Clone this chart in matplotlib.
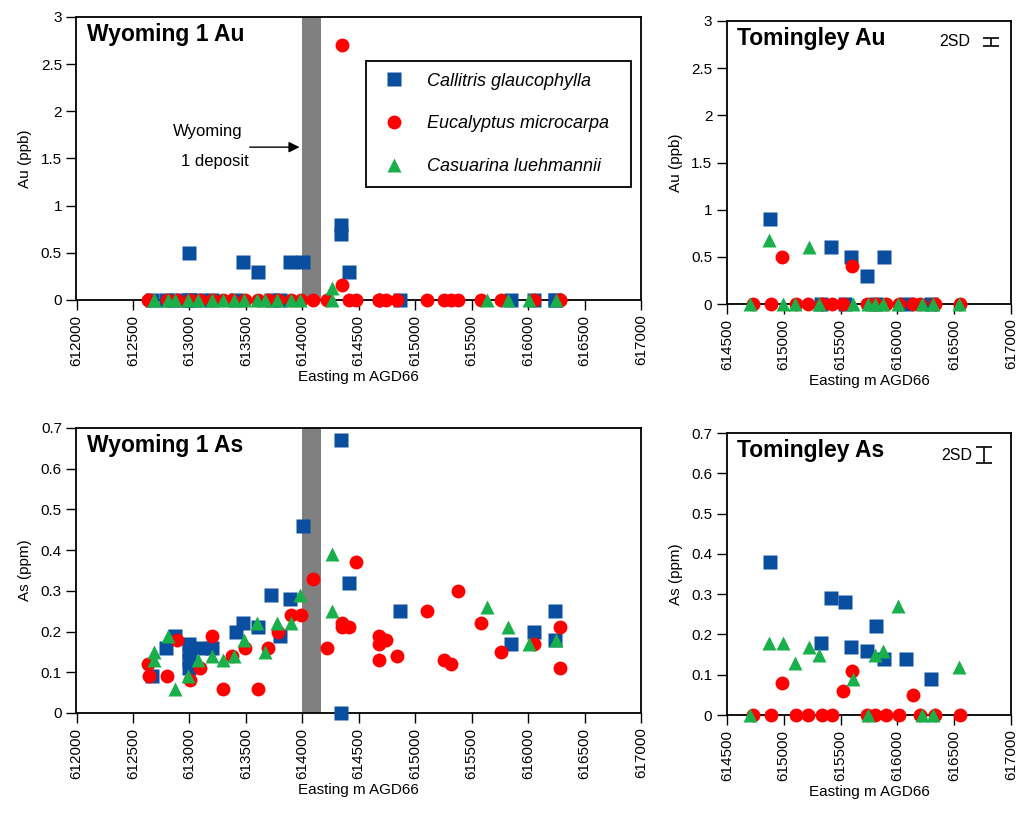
import matplotlib.pyplot as plt

plt.rcParams['font.family'] = ['Liberation Sans', 'DejaVu Sans']

SPECIES = ['Callitris glaucophylla', 'Eucalyptus microcarpa', 'Casuarina luehmannii']
COLORS = ['#0A4F9F', '#FF0000', '#19B04B']
MARKERS = ['s', 'o', '^']

# Wyoming 1 transect (easting, Au ppb, As ppm)
wy_callitris_x = [612665, 612792, 612872, 613000, 613000, 613000, 613000, 613100, 613200,
                  613411, 613476, 613609, 613727, 613801, 613895, 614002, 614347, 614347,
                  614414, 614869, 615851, 616049, 616235, 616235]
wy_callitris_au = [0, 0, 0, 0.5, 0, 0, 0, 0, 0, 0, 0.4, 0.3, 0, 0, 0.4, 0.4, 0.8, 0.7,
                   0.3, 0, 0, 0, 0, 0]
wy_callitris_as = [0.09, 0.16, 0.19, 0.17, 0.15, 0.13, 0.11, 0.16, 0.16, 0.2, 0.22, 0.21,
                   0.29, 0.19, 0.28, 0.46, 0.67, 0.0, 0.32, 0.25, 0.17, 0.2, 0.25, 0.18]

wy_eucalyptus_x = [612636, 612645, 612804, 612887, 613004, 613093, 613196, 613294, 613373,
                   613491, 613609, 613692, 613781, 613898, 613993, 614096, 614223, 614356,
                   614356, 614414, 614480, 614680, 614680, 614680, 614745, 614839, 615105,
                   615253, 615320, 615379, 615586, 615763, 616049, 616279, 616279]
wy_eucalyptus_au = [0, 0, 0, 0, 0, 0, 0, 0, 0, 0, 0, 0, 0, 0, 0, 0, 0, 2.7, 0.16, 0, 0,
                    0, 0, 0, 0, 0, 0, 0, 0, 0, 0, 0, 0, 0, 0]
wy_eucalyptus_as = [0.12, 0.09, 0.09, 0.18, 0.08, 0.11, 0.19, 0.06, 0.14, 0.16, 0.06, 0.16,
                    0.2, 0.24, 0.24, 0.33, 0.16, 0.22, 0.21, 0.21, 0.37, 0.19, 0.17, 0.13,
                    0.18, 0.14, 0.25, 0.13, 0.12, 0.3, 0.22, 0.15, 0.17, 0.21, 0.11]

wy_casuarina_x = [612686, 612686, 612807, 612872, 612990, 613072, 613196, 613299, 613394,
                  613482, 613600, 613674, 613777, 613904, 613984, 614267, 614267, 615636,
                  615821, 616007, 616250]
wy_casuarina_au = [0, 0, 0, 0, 0, 0, 0, 0, 0, 0, 0, 0, 0, 0, 0, 0.13, 0, 0, 0, 0, 0]
wy_casuarina_as = [0.15, 0.13, 0.19, 0.06, 0.09, 0.13, 0.14, 0.13, 0.14, 0.18, 0.22, 0.15,
                   0.22, 0.22, 0.29, 0.39, 0.25, 0.26, 0.21, 0.17, 0.18]

# Tomingley transect
tm_callitris_x = [614875, 615327, 615415, 615540, 615595, 615732, 615811, 615885, 616072,
                  616295]
tm_callitris_au = [0.9, 0, 0.6, 0, 0.5, 0.3, 0, 0.5, 0, 0]
tm_callitris_as = [0.38, 0.18, 0.29, 0.28, 0.17, 0.16, 0.22, 0.14, 0.14, 0.09]

tm_eucalyptus_x = [614730, 614885, 614985, 615110, 615210, 615333, 615421, 615518, 615600,
                   615730, 615800, 615900, 616015, 616135, 616200, 616335, 616555]
tm_eucalyptus_au = [0, 0, 0.5, 0, 0, 0, 0, 0, 0.4, 0, 0, 0, 0, 0, 0, 0, 0]
tm_eucalyptus_as = [0, 0, 0.08, 0, 0, 0, 0, 0.06, 0.11, 0, 0, 0, 0, 0.05, 0, 0, 0]

tm_casuarina_x = [614700, 614870, 614995, 615100, 615220, 615310, 615610, 615745, 615800,
                  615875, 616005, 616215, 616315, 616545]
tm_casuarina_au = [0, 0.68, 0, 0, 0.6, 0, 0, 0, 0, 0, 0, 0, 0, 0]
tm_casuarina_as = [0, 0.18, 0.18, 0.13, 0.17, 0.15, 0.09, 0, 0.15, 0.16, 0.27, 0, 0, 0.12]

DEPOSIT_SPAN = (614000, 614170)
WY_XTICKS = list(range(612000, 617001, 500))
TM_XTICKS = list(range(614500, 617001, 500))
AU_YTICKS = [0, 0.5, 1, 1.5, 2, 2.5, 3]
AS_YTICKS = [0, 0.1, 0.2, 0.3, 0.4, 0.5, 0.6, 0.7]
AU_YLABELS = ['0', '0.5', '1', '1.5', '2', '2.5', '3']
AS_YLABELS = ['0', '0.1', '0.2', '0.3', '0.4', '0.5', '0.6', '0.7']


def draw_panel(ax, series, xticks, yticks, ylabels, title, ylabel):
    for (xs, ys), color, marker, name in zip(series, COLORS, MARKERS, SPECIES):
        ax.plot(xs, ys, linestyle='none', marker=marker, ms=10, color=color,
                mec='none', clip_on=False, label=name, zorder=3)
    ax.set_xlim(xticks[0], xticks[-1])
    ax.set_ylim(yticks[0], yticks[-1])
    ax.set_xticks(xticks)
    ax.set_xticklabels([str(t) for t in xticks], rotation=90, fontsize=11)
    ax.set_yticks(yticks)
    ax.set_yticklabels(ylabels, fontsize=11)
    ax.tick_params(direction='out', length=7, width=1, color='k')
    for spine in ax.spines.values():
        spine.set_linewidth(1.3)
    ax.set_xlabel('Easting m AGD66', fontsize=11, labelpad=3)
    ax.set_ylabel(ylabel, fontsize=11, labelpad=6)
    # title sits inside the frame, ~10 px from the top-left corner
    ax.annotate(title, xy=(0, 1), xycoords='axes fraction', xytext=(7.5, -4),
                textcoords='offset points', fontsize=16.5, fontweight='bold',
                ha='left', va='top')


def draw_2sd(ax, x, y, err, capsize, gap):
    ax.errorbar([x], [y], yerr=[err], color='k', lw=1.2, capsize=capsize, capthick=1.2)
    ax.text(x - gap, y, '2SD', fontsize=11.5, ha='right', va='center')


def main():
    fig = plt.figure(figsize=(10.2, 8.23), dpi=100)
    ax_wy_au = fig.add_axes([0.075, 0.6355, 0.5534, 0.3439])
    ax_tm_au = fig.add_axes([0.7127, 0.6306, 0.2784, 0.3439])
    ax_wy_as = fig.add_axes([0.075, 0.1337, 0.5534, 0.3463])
    ax_tm_as = fig.add_axes([0.7127, 0.1312, 0.2784, 0.3426])

    for ax in (ax_wy_au, ax_wy_as):
        ax.axvspan(*DEPOSIT_SPAN, color='#808080', lw=0, zorder=1)

    draw_panel(ax_wy_au, [(wy_callitris_x, wy_callitris_au),
                          (wy_eucalyptus_x, wy_eucalyptus_au),
                          (wy_casuarina_x, wy_casuarina_au)],
               WY_XTICKS, AU_YTICKS, AU_YLABELS, 'Wyoming 1 Au', 'Au (ppb)')
    draw_panel(ax_wy_as, [(wy_callitris_x, wy_callitris_as),
                          (wy_eucalyptus_x, wy_eucalyptus_as),
                          (wy_casuarina_x, wy_casuarina_as)],
               WY_XTICKS, AS_YTICKS, AS_YLABELS, 'Wyoming 1 As', 'As (ppm)')
    draw_panel(ax_tm_au, [(tm_callitris_x, tm_callitris_au),
                          (tm_eucalyptus_x, tm_eucalyptus_au),
                          (tm_casuarina_x, tm_casuarina_au)],
               TM_XTICKS, AU_YTICKS, AU_YLABELS, 'Tomingley Au', 'Au (ppb)')
    draw_panel(ax_tm_as, [(tm_callitris_x, tm_callitris_as),
                          (tm_eucalyptus_x, tm_eucalyptus_as),
                          (tm_casuarina_x, tm_casuarina_as)],
               TM_XTICKS, AS_YTICKS, AS_YLABELS, 'Tomingley As', 'As (ppm)')

    leg = ax_wy_au.legend(loc='upper left', bbox_to_anchor=(0.512, 0.403, 0.471, 0.442),
                          mode='expand',
                          prop={'style': 'italic', 'size': 13}, frameon=True,
                          fancybox=False, edgecolor='k', framealpha=1,
                          borderpad=0.65, labelspacing=1.42, handletextpad=0.85,
                          handlelength=1.9, borderaxespad=0, markerscale=1.0)
    leg.get_frame().set_linewidth(1.3)

    # deposit annotation
    ax_wy_au.annotate('', xy=(614000, 1.62), xytext=(613510, 1.62),
                      arrowprops=dict(arrowstyle='-|>', color='k', lw=1, mutation_scale=16))
    ax_wy_au.text(613160, 1.79, 'Wyoming', fontsize=12, ha='center', va='center')
    ax_wy_au.text(613230, 1.47, '1 deposit', fontsize=12, ha='center', va='center')

    draw_2sd(ax_tm_au, 616823, 2.78, 0.042, 5.5, 185)
    draw_2sd(ax_tm_as, 616766, 0.645, 0.02, 6, 110)

    fig.savefig('out.png', dpi=100)


if __name__ == '__main__':
    main()
